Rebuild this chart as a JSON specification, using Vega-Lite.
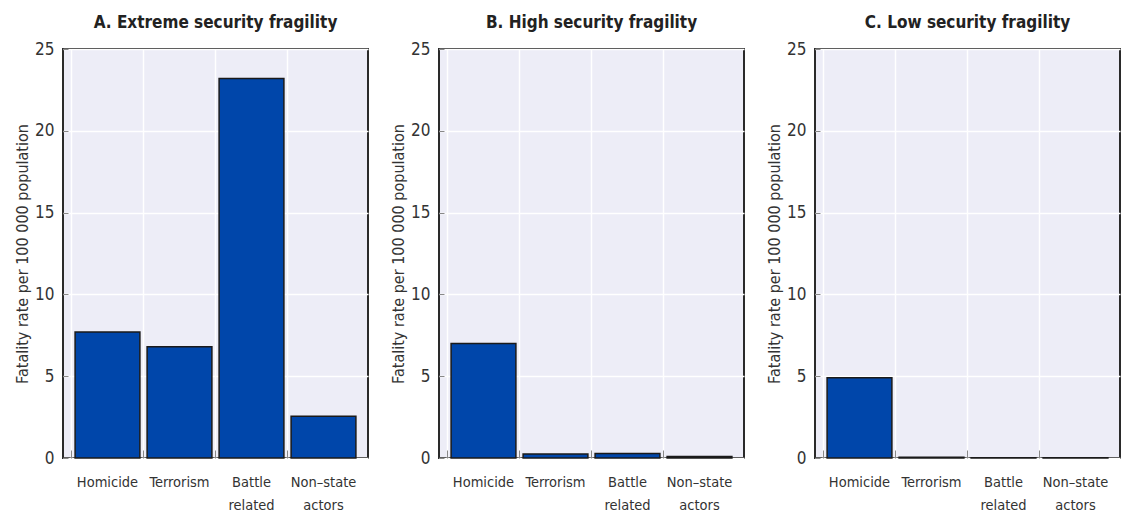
{
  "$schema": "https://vega.github.io/schema/vega-lite/v6.json",
  "padding": {"left": 13, "top": 14, "right": 0, "bottom": 0},
  "background": "white",
  "data": {"values": [
    {"panel": "A. Extreme security fragility", "category": "Homicide", "rate": 7.7},
    {"panel": "A. Extreme security fragility", "category": "Terrorism", "rate": 6.8},
    {"panel": "A. Extreme security fragility", "category": "Battle related", "rate": 23.2},
    {"panel": "A. Extreme security fragility", "category": "Non–state actors", "rate": 2.55},
    {"panel": "B. High security fragility", "category": "Homicide", "rate": 7.0},
    {"panel": "B. High security fragility", "category": "Terrorism", "rate": 0.24},
    {"panel": "B. High security fragility", "category": "Battle related", "rate": 0.28},
    {"panel": "B. High security fragility", "category": "Non–state actors", "rate": 0.09},
    {"panel": "C. Low security fragility", "category": "Homicide", "rate": 4.9},
    {"panel": "C. Low security fragility", "category": "Terrorism", "rate": 0.05},
    {"panel": "C. Low security fragility", "category": "Battle related", "rate": 0.01},
    {"panel": "C. Low security fragility", "category": "Non–state actors", "rate": 0.01}
  ]},
  "facet": {
    "column": {
      "field": "panel", "type": "nominal",
      "sort": ["A. Extreme security fragility", "B. High security fragility", "C. Low security fragility"],
      "header": {"title": null, "labelFont": "DejaVu Sans Condensed", "labelFontWeight": "bold", "labelFontSize": 17, "labelColor": "#222", "labelPadding": 7}
    }
  },
  "spacing": 20,
  "spec": {
    "width": 305,
    "height": 409,
    "mark": {"type": "bar", "fill": "#0046AA", "stroke": "#1a1a1a", "strokeWidth": 1.5},
    "encoding": {
      "x": {
        "field": "category", "type": "nominal",
        "sort": ["Homicide", "Terrorism", "Battle related", "Non–state actors"],
        "scale": {"paddingInner": 0.1, "paddingOuter": 0.168},
        "axis": {
          "title": null, "labelAngle": 0, "labelExpr": "split(datum.label, ' ')",
          "labelFont": "DejaVu Sans Condensed", "labelFontSize": 14.5, "labelColor": "#333",
          "labelPadding": 25, "labelLineHeight": 23, "domain": false,
          "ticks": true, "tickColor": "#888", "tickSize": -8, "bandPosition": -0.056,
          "grid": true, "gridColor": "white", "gridWidth": 1.5
        }
      },
      "y": {
        "field": "rate", "type": "quantitative",
        "scale": {"domain": [0, 25]},
        "axis": {
          "title": "Fatality rate per 100 000 population", "values": [0, 5, 10, 15, 20, 25],
          "titleFont": "DejaVu Sans Condensed", "titleFontSize": 16, "titleFontWeight": "normal", "titleColor": "#333",
          "labelFont": "DejaVu Sans Condensed", "labelFontSize": 17, "labelColor": "#333",
          "labelPadding": 14, "domain": false, "tickColor": "#888", "tickSize": -5,
          "grid": true, "gridColor": "white", "gridWidth": 1.5
        }
      }
    }
  },
  "resolve": {"axis": {"x": "independent", "y": "independent"}},
  "config": {
    "view": {"fill": "#EDEDF7", "stroke": "#2a2a2a", "strokeWidth": 2}
  }
}
